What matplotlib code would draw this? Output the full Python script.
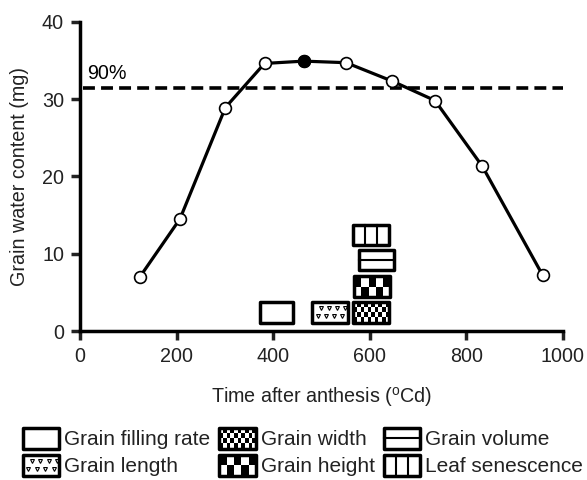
import matplotlib
matplotlib.use("Agg")
import matplotlib.pyplot as plt
from matplotlib.patches import Rectangle
from matplotlib.lines import Line2D
from matplotlib.legend_handler import HandlerBase

plt.rcParams['font.family'] = ['Liberation Sans', 'DejaVu Sans']
plt.rcParams['mathtext.fontset'] = 'custom'
plt.rcParams['mathtext.rm'] = 'Liberation Sans'
plt.rcParams['mathtext.it'] = 'Liberation Sans'

# ---- data ----
time_cd = [124, 207, 301, 382, 463, 551, 647, 735, 833, 958]
water_mg = [7.0, 14.5, 28.9, 34.6, 34.9, 34.7, 32.3, 29.8, 21.3, 7.2]
max_index = 4
threshold_label = "90%"
threshold_value = 0.9 * max(water_mg)

box_labels = ['Grain filling rate', 'Grain length', 'Grain width',
              'Grain height', 'Grain volume', 'Leaf senescence']
box_kinds = ['open', 'length', 'width', 'height', 'volume', 'senescence']
box_start = [372, 481, 566, 568, 578, 566]
box_end = [442, 554, 640, 642, 650, 640]
box_row = [0, 0, 0, 1, 2, 3]

x_ticks = [0, 200, 400, 600, 800, 1000]
y_ticks = [0, 10, 20, 30, 40]

FS = 14.2
FS_LEG = 15
LW_BOX = 2.5


def pattern_artists(kind, x0, y0, w, h, transform, lw):
    arts = []
    if kind == 'width':
        nr, nc = 4, 10
        for i in range(nr):
            for j in range(nc):
                if (i + j) % 2 == 0:
                    arts.append(Rectangle((x0 + j * w / nc, y0 + i * h / nr), w / nc, h / nr,
                                          fc='black', ec='none', transform=transform))
    elif kind == 'height':
        nr, nc = 2, 5
        for i in range(nr):
            for j in range(nc):
                if (i + j) % 2 == 1:
                    arts.append(Rectangle((x0 + j * w / nc, y0 + i * h / nr), w / nc, h / nr,
                                          fc='black', ec='none', transform=transform))
    elif kind == 'length':
        xs, ys = [], []
        for i in range(2):
            for j in range(4):
                xs.append(x0 + w * (0.15 + 0.23 * j + (0.1 if i else 0)))
                ys.append(y0 + h * (0.3 + 0.42 * i))
        arts.append(Line2D(xs, ys, ls='none', marker='v', ms=2.8, mfc='none', mec='black',
                           mew=0.8, transform=transform))
    elif kind == 'volume':
        arts.append(Line2D([x0, x0 + w], [y0 + h / 2, y0 + h / 2], color='black', lw=lw * 0.6,
                           transform=transform))
    elif kind == 'senescence':
        for f in (1 / 3, 2 / 3):
            arts.append(Line2D([x0 + w * f, x0 + w * f], [y0, y0 + h], color='black', lw=lw * 0.6,
                               transform=transform))
    arts.append(Rectangle((x0, y0), w, h, fc='none', ec='black', lw=lw, joinstyle='round',
                          transform=transform))
    return arts


class PatternHandler(HandlerBase):
    def __init__(self, kind):
        super().__init__()
        self.kind = kind

    def create_artists(self, legend, orig_handle, xdescent, ydescent, width, height,
                       fontsize, trans):
        return pattern_artists(self.kind, -xdescent, -ydescent - 1.5, width, height + 2.5,
                               trans, LW_BOX)


fig = plt.figure(figsize=(5.87, 4.80), dpi=100)
ax = fig.add_axes([0.1363, 0.3104, 0.8228, 0.6444])

ax.plot(time_cd, water_mg, color='black', lw=2.3, marker='o', ms=8.5, mfc='white', mec='black',
        mew=1.2, zorder=3)
ax.plot([time_cd[max_index]], [water_mg[max_index]], ls='none', marker='o', ms=8.5, mfc='black',
        mec='black', zorder=4)
ax.axhline(threshold_value, xmin=0.006, color='black', lw=2.6, ls=(0, (3.3, 1.7)), zorder=2)
ax.text(15, threshold_value + 0.7, threshold_label, fontsize=FS, ha='left', va='bottom')

row_centers = [2.4, 5.75, 9.2, 12.45]
bh = 2.6
for kind, s, e, r in zip(box_kinds, box_start, box_end, box_row):
    for a in pattern_artists(kind, s, row_centers[r] - bh / 2, e - s, bh, ax.transData, LW_BOX):
        if isinstance(a, Line2D):
            ax.add_line(a)
        else:
            ax.add_patch(a)

ax.set_xlim(0, 1000)
ax.set_ylim(0, 40)
ax.set_xticks(x_ticks)
ax.set_yticks(y_ticks)
for sp in ['top', 'right']:
    ax.spines[sp].set_visible(False)
for sp in ['left', 'bottom']:
    ax.spines[sp].set_linewidth(2.5)
    ax.spines[sp].set_capstyle('projecting')
ax.tick_params(width=2.5, length=6.5, labelsize=FS, pad=5, direction='out', colors='#222222')
ax.set_xlabel('Time after anthesis ($\\mathregular{^{o}}$Cd)', fontsize=FS, labelpad=14,
              color='#222222')
ax.set_ylabel('Grain water content (mg)', fontsize=FS, labelpad=9, color='#222222')

handles = [Line2D([], [], label=l) for l in box_labels]
hmap = {h: PatternHandler(k) for h, k in zip(handles, box_kinds)}
fig.legend(handles, box_labels, handler_map=hmap, ncol=3, loc='center',
           bbox_to_anchor=(0.516, 0.057), frameon=False, fontsize=FS_LEG,
           handlelength=1.75, handleheight=0.9, handletextpad=0.22, columnspacing=0.45,
           labelspacing=0.35, borderpad=0, labelcolor='#222222')

fig.savefig('out.png', dpi=100)
